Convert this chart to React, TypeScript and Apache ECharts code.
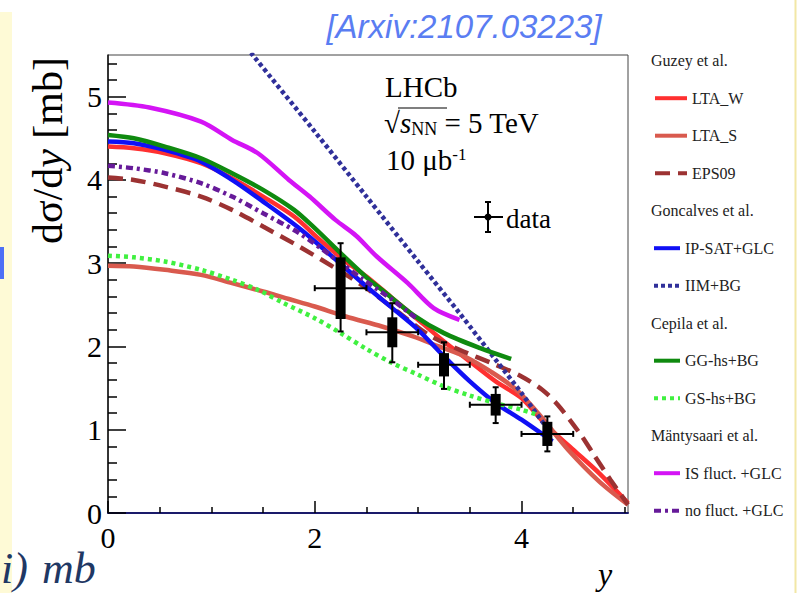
import React, { useEffect, useRef } from 'react';
import * as echarts from 'echarts';

// ---- data ----
const LTA_W: number[][] = [[0,4.40],[0.25,4.38],[0.55,4.32],[0.9,4.20],[1.2,4.02],[1.5,3.80],[1.8,3.56],[2.05,3.28],[2.3,3.02],[2.5,2.84],[2.75,2.58],[3.0,2.32],[3.25,2.06],[3.5,1.82],[3.75,1.58],[4.0,1.38],[4.25,1.04],[4.5,0.76],[4.75,0.48],[5.03,0.12]];
const LTA_S: number[][] = [[0,2.97],[0.25,2.96],[0.55,2.92],[0.9,2.86],[1.2,2.76],[1.5,2.66],[1.75,2.57],[2.0,2.48],[2.3,2.36],[2.65,2.24],[2.95,2.12],[3.2,2.00],[3.45,1.88],[3.7,1.70],[3.95,1.48],[4.2,1.14],[4.45,0.76],[4.75,0.38],[5.03,0.10]];
const EPS09: number[][] = [[0,4.03],[0.25,4.0],[0.55,3.92],[0.9,3.80],[1.2,3.64],[1.5,3.44],[1.85,3.20],[2.2,2.94],[2.5,2.70],[2.8,2.42],[3.1,2.14],[3.4,1.96],[3.75,1.78],[4.0,1.64],[4.2,1.48],[4.35,1.30],[4.55,0.98],[4.7,0.70],[4.86,0.40],[5.03,0.10]];
const IPSAT: number[][] = [[0,4.46],[0.25,4.44],[0.55,4.36],[0.9,4.22],[1.2,4.00],[1.5,3.74],[1.85,3.42],[2.15,3.10],[2.5,2.72],[2.75,2.46],[3.0,2.20],[3.25,1.88],[3.5,1.58],[3.75,1.32],[4.0,1.12],[4.3,0.86]];
const IIM: number[][] = [[1.0,6.12],[1.4,5.5],[2.0,4.58],[2.5,3.80],[3.0,3.02],[3.4,2.40],[3.75,1.84],[4.0,1.44],[4.28,0.96]];
const GG: number[][] = [[0,4.54],[0.25,4.50],[0.55,4.40],[0.9,4.26],[1.2,4.08],[1.5,3.88],[1.8,3.64],[2.0,3.42],[2.25,3.12],[2.5,2.83],[2.65,2.68],[2.95,2.38],[3.25,2.16],[3.6,1.98],[3.9,1.85]];
const GS: number[][] = [[0,3.09],[0.25,3.07],[0.55,3.02],[0.9,2.92],[1.2,2.80],[1.45,2.68],[1.7,2.52],[2.0,2.34],[2.25,2.16],[2.5,1.97],[2.75,1.80],[3.0,1.66],[3.25,1.52],[3.5,1.41],[3.75,1.32],[4.0,1.24],[4.15,1.18]];
const IS_FLUCT: number[][] = [[0,4.93],[0.4,4.87],[0.9,4.70],[1.2,4.48],[1.45,4.32],[1.75,4.00],[1.95,3.80],[2.2,3.52],[2.4,3.33],[2.6,3.08],[2.9,2.76],[3.15,2.46],[3.4,2.32]];
const NO_FLUCT: number[][] = [[0,4.17],[0.25,4.14],[0.55,4.08],[0.9,3.96],[1.2,3.80],[1.5,3.60],[1.85,3.36],[2.2,3.05],[2.45,2.82],[2.75,2.56],[3.0,2.32]];

const dataX = [2.25, 2.75, 3.25, 3.75, 4.25];
const dataY = [2.70, 2.17, 1.78, 1.30, 0.95];
const statUp = [0.54, 0.35, 0.27, 0.21, 0.21];
const statDn = [0.52, 0.36, 0.29, 0.22, 0.21];
const syst = [0.37, 0.18, 0.14, 0.13, 0.145];
const binHalf = 0.25;

const xMajor = [0, 2, 4];
const xMinor = [0.5, 1, 1.5, 2.5, 3, 3.5, 4.5, 5];
const yMajor = [0, 1, 2, 3, 4, 5];
const yMinor = [0.2,0.4,0.6,0.8,1.2,1.4,1.6,1.8,2.2,2.4,2.6,2.8,3.2,3.4,3.6,3.8,4.2,4.4,4.6,4.8,5.2,5.4];

const SERIF = 'Liberation Serif';

export default function App() {
  const ref = useRef<HTMLDivElement>(null);
  useEffect(() => {
    const chart = echarts.init(ref.current!, null, { renderer: 'svg' });
    const line = (name: string, data: number[][], color: string, type: any, width = 4.5) => ({
      name, type: 'line', data, symbol: 'none', smooth: 0.3, clip: true,
      lineStyle: { color, width, type, cap: 'butt' }, itemStyle: { color },
    });
    const legendText = { fontFamily: SERIF, fontSize: 16, color: '#222', lineHeight: 16 };
    const legendBase = {
      orient: 'vertical', padding: 0, itemHeight: 14, itemGap: 21.5, selectedMode: false, textStyle: legendText,
      lineStyle: { width: 4 },
      itemStyle: { color: 'rgba(0,0,0,0)', borderColor: 'rgba(0,0,0,0)', borderWidth: 0 },
    };
    const tickText = { fontFamily: SERIF, fontSize: 30, color: '#000' };
    const hdr = (t: string, y: number) => ({ type: 'text', x: 651, y, style: { text: t, fontFamily: SERIF, fontSize: 16, fill: '#222', align: 'left', verticalAlign: 'middle' } });
    const txt = (t: string, x: number, y: number, size: number) => ({ type: 'text', x, y, style: { text: t, fontFamily: SERIF, fontSize: size, fill: '#000', align: 'left', verticalAlign: 'middle' } });

    chart.setOption({
      animation: false,
      backgroundColor: '#ffffff',
      grid: { left: 108, top: 55, width: 520, height: 458, show: true, borderColor: '#444', borderWidth: 1 },
      xAxis: [
        { type: 'value', min: 0, max: 5.03, position: 'bottom',
          axisLine: { onZero: false, lineStyle: { color: '#1a1a6a', width: 2 } },
          axisTick: { inside: true, length: 12, customValues: xMajor, lineStyle: { color: '#000', width: 1.5 } },
          axisLabel: { customValues: xMajor, margin: 9, ...tickText },
          splitLine: { show: false } },
        { type: 'value', min: 0, max: 5.03, position: 'bottom',
          axisLine: { show: false },
          axisTick: { inside: true, length: 6, customValues: xMinor, lineStyle: { color: '#000', width: 1.5 } },
          axisLabel: { show: false }, splitLine: { show: false } },
      ],
      yAxis: [
        { type: 'value', min: 0, max: 5.5, position: 'left',
          axisLine: { onZero: false, lineStyle: { color: '#111', width: 1.5 } },
          axisTick: { inside: true, length: 18, customValues: yMajor, lineStyle: { color: '#000', width: 1.5 } },
          axisLabel: { customValues: yMajor, margin: 6, ...tickText },
          splitLine: { show: false } },
        { type: 'value', min: 0, max: 5.5, position: 'left',
          axisLine: { show: false },
          axisTick: { inside: true, length: 9, customValues: yMinor, lineStyle: { color: '#000', width: 1.5 } },
          axisLabel: { show: false }, splitLine: { show: false } },
      ],
      legend: [
        { ...legendBase, data: ['LTA_W', 'LTA_S', 'EPS09'], left: 653, top: 90.2, itemWidth: 32 },
        { ...legendBase, data: ['IP-SAT+GLC', 'IIM+BG'], left: 652, top: 240.2, itemWidth: 26 },
        { ...legendBase, data: ['GG-hs+BG', 'GS-hs+BG'], left: 652, top: 352.7, itemWidth: 26 },
        { ...legendBase, data: ['IS fluct. +GLC', 'no fluct. +GLC'], left: 652, top: 465.2, itemWidth: 26 },
      ],
      series: [
        line('LTA_W', LTA_W, '#ff3030', 'solid'),
        line('LTA_S', LTA_S, '#d95a4e', 'solid'),
        line('EPS09', EPS09, '#9c3232', [15, 8]),
        line('IP-SAT+GLC', IPSAT, '#1010f5', 'solid'),
        line('IIM+BG', IIM, '#30309a', [4, 3]),
        line('GG-hs+BG', GG, '#0f8a0f', 'solid'),
        line('GS-hs+BG', GS, '#40f040', [4, 4]),
        line('IS fluct. +GLC', IS_FLUCT, '#d414f5', 'solid'),
        line('no fluct. +GLC', NO_FLUCT, '#661a99', [7, 4, 3, 4]),
        {
          name: 'data', type: 'custom', z: 10,
          data: dataX.map((x, i) => [x, dataY[i], statUp[i], statDn[i], syst[i], binHalf]),
          encode: { x: 0, y: 1 },
          renderItem: (params: any, api: any) => {
            const x = api.value(0), y = api.value(1), up = api.value(2), dn = api.value(3), sy = api.value(4), hw = api.value(5);
            const c = api.coord([x, y]);
            const t = api.coord([x, y + up]);
            const b = api.coord([x, y - dn]);
            const l = api.coord([x - hw, y]);
            const r = api.coord([x + hw, y]);
            const st = api.coord([x, y + sy]);
            const sb = api.coord([x, y - sy]);
            const s = { stroke: '#000', lineWidth: 2 };
            return {
              type: 'group',
              children: [
                { type: 'rect', shape: { x: c[0] - 5, y: st[1], width: 10, height: sb[1] - st[1] }, style: { fill: '#000' } },
                { type: 'line', shape: { x1: c[0], y1: t[1], x2: c[0], y2: b[1] }, style: s },
                { type: 'line', shape: { x1: c[0] - 3, y1: t[1], x2: c[0] + 3, y2: t[1] }, style: s },
                { type: 'line', shape: { x1: c[0] - 3, y1: b[1], x2: c[0] + 3, y2: b[1] }, style: s },
                { type: 'line', shape: { x1: l[0], y1: c[1], x2: r[0], y2: c[1] }, style: s },
                { type: 'line', shape: { x1: l[0], y1: c[1] - 3, x2: l[0], y2: c[1] + 3 }, style: s },
                { type: 'line', shape: { x1: r[0], y1: c[1] - 3, x2: r[0], y2: c[1] + 3 }, style: s },
                { type: 'circle', shape: { cx: c[0], cy: c[1], r: 3.5 }, style: { fill: '#000' } },
              ],
            };
          },
        },
      ],
      graphic: [
        { type: 'rect', shape: { x: 0, y: 12, width: 12, height: 581 }, style: { fill: '#fefad6' }, z: -10 },
        { type: 'rect', shape: { x: 0, y: 247, width: 4, height: 32 }, style: { fill: '#4d6ff6' } },
        { type: 'line', shape: { x1: 795.5, y1: 0, x2: 795.5, y2: 593 }, style: { stroke: '#f2e7a6', lineWidth: 2 } },
        { type: 'text', x: 1, y: 568, style: { text: 'i)', fontFamily: SERIF, fontStyle: 'italic', fontSize: 44, lineHeight: 44, fill: '#1f3864', align: 'left', verticalAlign: 'middle' } },
        { type: 'text', x: 42, y: 568, style: { text: 'mb', fontFamily: SERIF, fontStyle: 'italic', fontSize: 44, lineHeight: 44, fill: '#1f3864', align: 'left', verticalAlign: 'middle' } },
        { type: 'text', x: 464, y: 26, style: { text: '[Arxiv:2107.03223]', fontFamily: 'Liberation Sans', fontStyle: 'italic', fontSize: 33, fill: '#5a7df2', align: 'center', verticalAlign: 'middle' } },
        // axis titles
        { type: 'text', x: 48, y: 57, rotation: Math.PI / 2, style: {
          text: '{n|dσ/d}{i|y}{n| [mb]}', align: 'right', verticalAlign: 'middle',
          rich: { n: { fontFamily: SERIF, fontSize: 42, fill: '#000' }, i: { fontFamily: SERIF, fontSize: 42, fontStyle: 'italic', fill: '#000' } } } },
        { type: 'text', x: 598, y: 574, style: { text: 'y', fontFamily: SERIF, fontStyle: 'italic', fontSize: 32, lineHeight: 30, fill: '#000', align: 'left', verticalAlign: 'middle' } },
        // in-plot labels
        txt('LHCb', 385, 87, 29),
        { type: 'text', x: 384, y: 123, style: {
          text: '{r|√}{s|s}{sub|NN}{t| = 5 TeV}', align: 'left', verticalAlign: 'middle',
          rich: {
            r: { fontFamily: SERIF, fontSize: 29, fill: '#000' },
            s: { fontFamily: SERIF, fontSize: 29, fontStyle: 'italic', fill: '#000' },
            sub: { fontFamily: SERIF, fontSize: 18, fill: '#000', verticalAlign: 'bottom' },
            t: { fontFamily: SERIF, fontSize: 29, fill: '#000' },
          } } },
        { type: 'line', shape: { x1: 398, y1: 108, x2: 447, y2: 108 }, style: { stroke: '#000', lineWidth: 1.2 } },
        { type: 'text', x: 386, y: 160, style: {
          text: '{a|10 μb}{sup|-1}', align: 'left', verticalAlign: 'middle',
          rich: { a: { fontFamily: SERIF, fontSize: 29, fill: '#000' }, sup: { fontFamily: SERIF, fontSize: 17, fill: '#000', verticalAlign: 'top' } } } },
        // data legend entry
        { type: 'line', shape: { x1: 488, y1: 202, x2: 488, y2: 232 }, style: { stroke: '#000', lineWidth: 2 } },
        { type: 'line', shape: { x1: 474, y1: 217, x2: 503, y2: 217 }, style: { stroke: '#000', lineWidth: 2 } },
        { type: 'line', shape: { x1: 485, y1: 202, x2: 491, y2: 202 }, style: { stroke: '#000', lineWidth: 2 } },
        { type: 'line', shape: { x1: 485, y1: 232, x2: 491, y2: 232 }, style: { stroke: '#000', lineWidth: 2 } },
        { type: 'circle', shape: { cx: 488, cy: 217, r: 3.5 }, style: { fill: '#000' } },
        txt('data', 506, 219, 27),
        // legend group headers
        hdr('Guzey et al.', 60.7),
        hdr('Goncalves et al.', 210.7),
        hdr('Cepila et al.', 323.2),
        hdr('Mäntysaari et al.', 435.7),
      ],
    });
    return () => chart.dispose();
  }, []);
  return <div ref={ref} style={{ position: 'absolute', left: 0, top: 0, width: 807, height: 593 }} />;
}
